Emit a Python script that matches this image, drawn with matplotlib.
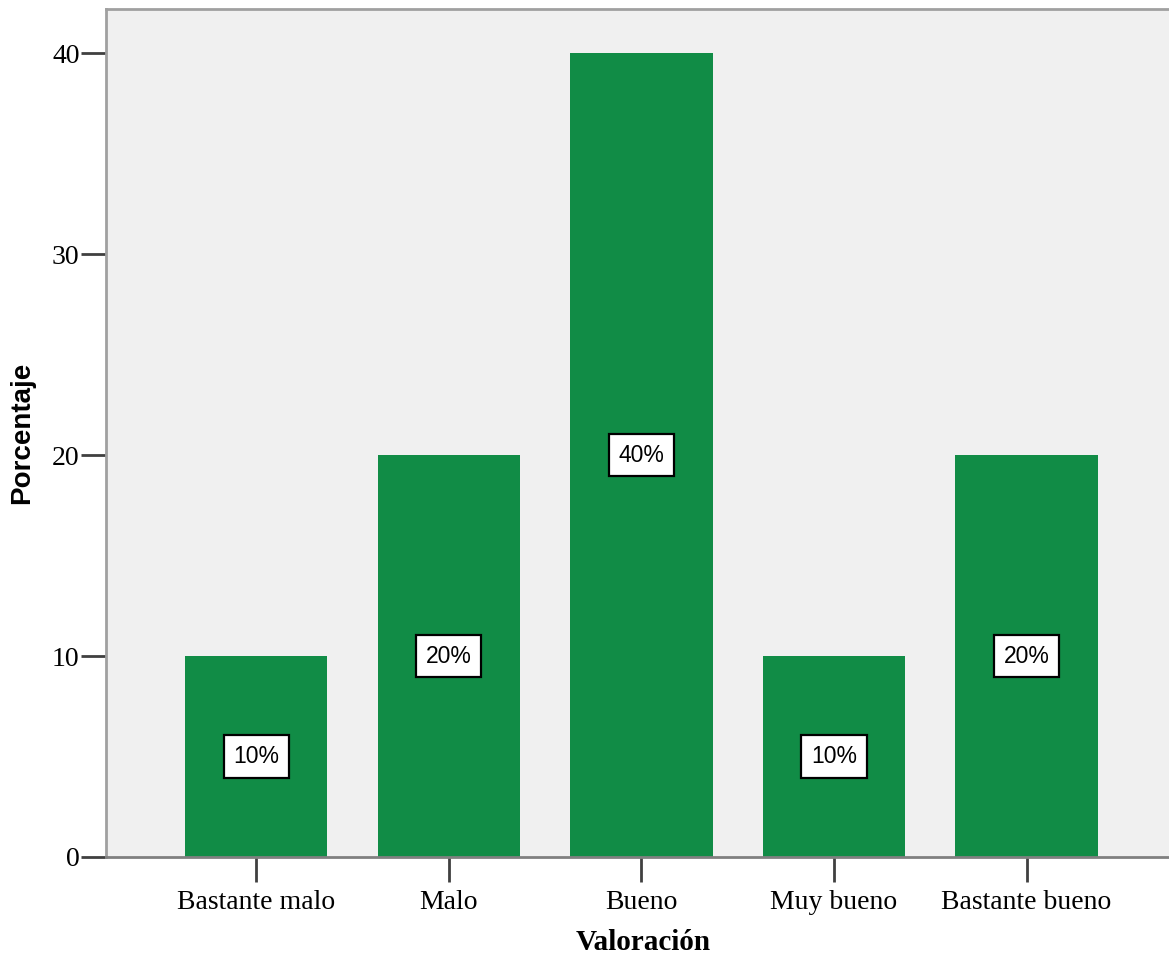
import matplotlib.pyplot as plt
import numpy as np

categorias = ["Bastante malo", "Malo", "Bueno", "Muy bueno", "Bastante bueno"]
porcentajes = [10, 20, 40, 10, 20]
etiquetas = ["10%", "20%", "40%", "10%", "20%"]
yticks = [0, 10, 20, 30, 40]

verde = "#118c46"
fondo = "#f0f0f0"

fig = plt.figure(figsize=(11.69, 9.59), dpi=100)
ax = fig.add_axes([106 / 1169, 1 - 857 / 959, 1 - 106 / 1169 + 0.01, (857 - 9) / 959])
ax.set_facecolor(fondo)

x = np.arange(len(categorias))
bars = ax.bar(x, porcentajes, width=0.74, color=verde, edgecolor="none", zorder=2)

# caja con el porcentaje en el centro de cada barra
for b, val, txt in zip(bars, porcentajes, etiquetas):
    ax.text(b.get_x() + b.get_width() / 2, val / 2, txt, ha="center", va="center",
            fontsize=16.5, family="Liberation Sans", color="black", zorder=3,
            bbox=dict(boxstyle="square,pad=0.42", facecolor="white", edgecolor="black", linewidth=1.6))

ax.set_xlim(-0.78, 4.8)
ax.set_ylim(0, 42.2)
ax.set_xticks(x)
ax.set_xticklabels(categorias, family="Liberation Serif", fontsize=20)
ax.set_yticks(yticks)
ax.set_yticklabels([str(t) for t in yticks], family="Liberation Serif", fontsize=20)

ax.tick_params(axis="y", length=18, width=2, color="#404040", pad=1)
ax.tick_params(axis="x", length=18, width=2, color="#404040", pad=6)

for s in ["left", "top"]:
    ax.spines[s].set_color("#a0a0a0")
    ax.spines[s].set_linewidth(2)
ax.spines["bottom"].set_color("#808080")
ax.spines["bottom"].set_linewidth(2)
ax.spines["right"].set_visible(False)

ax.set_xlabel("Valoración", family="Liberation Serif", fontweight="bold", fontsize=21, labelpad=10)
ax.set_ylabel("Porcentaje", family="Liberation Sans", fontweight="bold", fontsize=20, labelpad=12)

fig.savefig("out.png", dpi=100, facecolor="white")
